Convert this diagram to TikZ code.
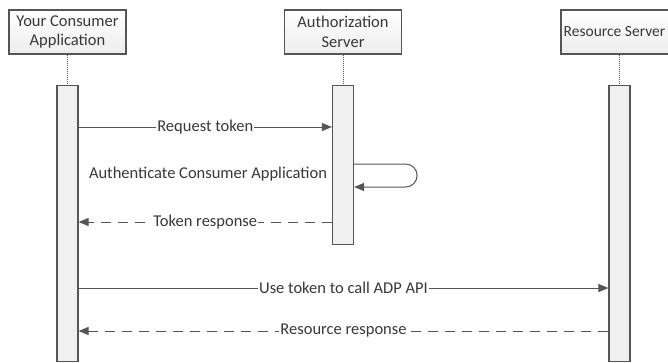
\documentclass[tikz,border=0pt]{standalone}
\usepackage{fontspec}
\setmainfont{Carlito}
\usepackage{xcolor}
\usepackage{tikz}
\usetikzlibrary{arrows.meta,positioning}

\definecolor{linegray}{HTML}{555555}
\definecolor{textgray}{HTML}{383838}

\begin{document}
\begin{tikzpicture}[x=1pt, y=-1pt,
  every node/.style={text=textgray, font=\fontsize{16.5}{19.5}\selectfont},
  box/.style={draw=linegray, line width=1.2pt, top color=white, bottom color=black!7,
    minimum width=117pt, minimum height=44pt, align=center, inner sep=0pt},
  bar/.style={draw=linegray, line width=1.2pt, fill=black!6, minimum width=21pt, inner sep=0pt},
  life/.style={draw=linegray, line width=1pt, densely dotted},
  msg/.style={draw=linegray, line width=1pt, -{Triangle[length=10pt, width=8pt]}},
  reply/.style={msg, dash pattern=on 10pt off 7pt},
  lbl/.style={fill=white, inner sep=1pt}]
 \clip (0,0) rectangle (668,362);
 \fill[white] (0,0) rectangle (668,362);

 % lifeline heads
 \node (app) at (67.5,32) [box] {Your Consumer\\Application};
 \node (auth) at (343,32) [box] {Authorization\\Server};
 \node (res) at (619.5,32) [box] {};
 \node (restext) at (614.5,32) [font=\fontsize{15.5}{19.5}\selectfont] {Resource Server};

 % activation bars
 \node (appbar) [bar, minimum height=276pt, below=30pt of app] {};
 \node (authbar) [bar, minimum height=159pt, below=30pt of auth] {};
 \node (resbar) [bar, minimum height=276pt, below=30pt of res] {};

 \draw [life] (app) -- (appbar);
 \draw [life] (auth) -- (authbar);
 \draw [life] (res) -- (resbar);

 % messages
 \draw [msg] (appbar.east |- 0,127) -- node [lbl] {Request token} (authbar.west |- 0,127);
 \coordinate (loopin) at (authbar.east |- 0,164);
 \coordinate (loopout) at (authbar.east |- 0,187);
 \draw [msg] (loopin) -- ++(51.5,0) arc [start angle=-90, end angle=90, radius=11.5] -- (loopout);
 \node (authn) at (208,174) {Authenticate Consumer Application};
 \draw [reply] (authbar.west |- 0,222) -- node [lbl] {Token response} (appbar.east |- 0,222);
 \draw [msg] (appbar.east |- 0,288) -- node [lbl] {Use token to call ADP API} (resbar.west |- 0,288);
 \draw [reply] (resbar.west |- 0,331) -- node [lbl] {Resource response} (appbar.east |- 0,331);
\end{tikzpicture}
\end{document}
